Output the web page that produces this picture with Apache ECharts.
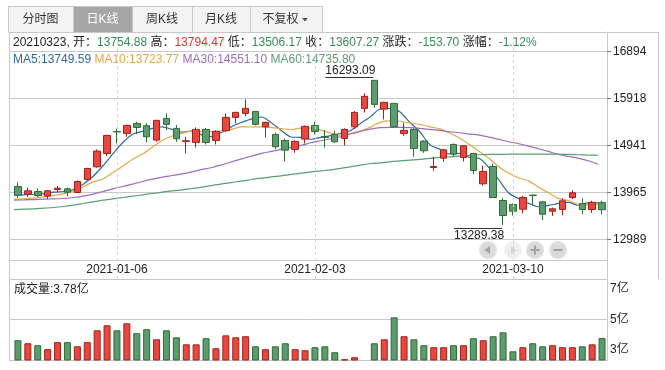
<!DOCTYPE html>
<html><head><meta charset="utf-8">
<script src="https://cdn.jsdelivr.net/npm/echarts@6/dist/echarts.min.js"></script>
<style>html,body{margin:0;padding:0;background:#fff}#c{width:665px;height:370px}</style>
</head><body><div id="c"></div>
<script>
const dates = ['2020-12-22','2020-12-23','2020-12-24','2020-12-25','2020-12-28','2020-12-29','2020-12-30','2020-12-31','2021-01-04','2021-01-05','2021-01-06','2021-01-07','2021-01-08','2021-01-11','2021-01-12','2021-01-13','2021-01-14','2021-01-15','2021-01-18','2021-01-19','2021-01-20','2021-01-21','2021-01-22','2021-01-25','2021-01-26','2021-01-27','2021-01-28','2021-01-29','2021-02-01','2021-02-02','2021-02-03','2021-02-04','2021-02-05','2021-02-08','2021-02-09','2021-02-10','2021-02-18','2021-02-19','2021-02-22','2021-02-23','2021-02-24','2021-02-25','2021-02-26','2021-03-01','2021-03-02','2021-03-03','2021-03-04','2021-03-05','2021-03-08','2021-03-09','2021-03-10','2021-03-11','2021-03-12','2021-03-15','2021-03-16','2021-03-17','2021-03-18','2021-03-19','2021-03-22','2021-03-23'];
const opens = [14089.5,13930,13985.6,13889,14027,14041,13965,14235,14498,14775,
  15230,15191,15398.5,15350,15052,15502,15295,15025,15004,15274,
  15045,15246,15523,15606,15648,15329,15170,15045,14858,15073,
  15357,15121,15170,15087,15329,15710,16292,15696,15814,15191,
  15274,15031,14484,14678,14962,14692,14775,14145,14505,13799,
  13716,13619,13910,13771,13577,13612,13861,13736,13612,13754.88];
const closes = [13909.5,13999.5,13902.5,13999.5,14055,13972,14193,14463.5,14824,15149,
  15222,15357,15315,15121,15461,15378,15080,15038,15274,15004,
  15232,15523,15627,15710,15378,15419,14914,14844,15025,15336,
  15232,15108,15018,15274,15627,15960,15793,15835,15329,15253,
  14879,14831,14505,14851,14761,14935,14422,14401,13861,13487,
  13577,13861,13903,13515,13626,13792,13958,13612,13760.97,13607.27];
const lows = [13854,13875,13868,13826,13972,13889,13958,14207,14477,14720,
  14983,15121,15177,15004,15018,15260,15018,14775,14900,14962,
  14962,15225,15398,15551,15357,15108,14865,14609,14789,14983,
  15170,14900,14997,14941,15281,15627,15724,15482,15310,15142,
  14706,14789,14408,14602,14713,14609,14346,14110,13854,13289.38,
  13487,13529,13695,13390,13480,13494,13827,13515,13542,13506.17];
const highs = [14172.6,14069,14048,14013,14096.5,14069,14214,14477,14858,15163,
  15288,15371,15433,15398,15475,15606,15364,15121,15315,15302,
  15260,15606,15641,15897,15655,15433,15205,15087,15052,15357,
  15433,15260,15246,15295,15655,16022,16293.09,15849,15820,15412,
  15295,15052,14706,14872,14983,14948,14789,14519,14567,13847,
  13736,13896,13923,13785,13653,13840,14013,13840,13792,13794.47];
const volumes = [3.64,3.44,3.31,3.05,3.51,3.51,3.24,3.51,4.29,4.62,
  4.29,4.75,4.10,4.36,3.70,4.29,3.83,3.37,3.37,3.77,
  3.11,3.96,3.83,3.90,3.24,3.05,3.24,3.44,3.05,2.98,
  3.18,3.24,2.85,2.39,2.52,2.35,3.44,3.70,5.14,3.90,
  3.70,3.31,3.18,3.18,3.31,3.31,3.77,3.64,3.90,4.16,
  2.91,3.18,3.44,3.24,3.31,3.18,3.18,3.24,3.37,3.78];
const ma5 = [13909,13916,13923,13937,13973,13986,14024,14137,14301,14520,
  14770,15003,15173,15233,15295,15326,15271,15216,15246,15155,
  15126,15214,15332,15419,15494,15531,15410,15253,15116,15108,
  15070,15109,15144,15194,15252,15397,15534,15698,15709,15634,
  15418,15225,14959,14864,14765,14777,14695,14674,14476,14221,
  13950,13837,13738,13669,13696,13739,13759,13701,13750,13749.59];
const ma10 = [13826,13833,13854,13875,13903,13937,13999,14083,14186,14246,
  14378,14513,14655,14767,14907,15048,15137,15194,15239,15225,
  15226,15242,15274,15332,15324,15328,15312,15292,15267,15301,
  15300,15259,15198,15155,15180,15233,15321,15421,15451,15443,
  15407,15379,15328,15286,15199,15097,14960,14816,14670,14493,
  14363,14266,14206,14072,13958,13844,13798,13719,13709,13723.77];
const ma30 = [13806,13812,13819,13826,13833,13840,13861,13889,13930,13986,
  14041,14090,14138,14193,14242,14284,14318,14353,14394,14443,
  14484,14540,14602,14664,14720,14775,14817,14858,14900,14941,
  14997,15038,15080,15122,15184,15239,15281,15309,15315,15315,
  15309,15295,15274,15253,15225,15205,15177,15156,15115,15066,
  15018,14976,14928,14872,14817,14754,14713,14678,14623,14551.10];
const ma60 = [13611,13618,13625,13639,13653,13674,13702,13736,13771,13806,
  13833,13861,13889,13916,13944,13972,14000,14020,14048,14076,
  14110,14145,14173,14200,14235,14263,14290,14311,14339,14367,
  14394,14415,14436,14464,14498,14533,14561,14581,14602,14623,
  14637,14651,14671,14692,14706,14720,14734,14748,14754,14754,
  14761,14761,14761,14761,14761,14761,14754,14748,14741,14735.80];
const priceTicks = [12989,13965,14941,15918,16894];
const volTicks = [3,5,7];
const dateLabels = ['2021-01-06','2021-02-03','2021-03-10'];
const tabs = ['分时图','日K线','周K线','月K线','不复权'];
const prevClose = 13760.97;

const FF = '"Liberation Sans","Noto Sans CJK SC",sans-serif';
const GL = '#c8c8c8';
const UP = '#e8473d', UPB = '#a1201c', DN = '#5c9b6d', DNB = '#2f6b33';
const MAC = ['#2e6aa3', '#e8a64a', '#9c6cc0', '#5c9e70'];
const TXG = '#3a8a5a', TXR = '#e3352c', TXK = '#222';
const PMIN = 12170, PMAX = 17295, VMIN = 2.34, VMAX = 7.66;

const n = dates.length, L = n - 1;
const f2 = v => v.toFixed(2);
const chg = closes[L] - prevClose;
const pct = chg / prevClose * 100;
const colorOf = v => v >= prevClose ? 'r' : 'g';

let imax = 0, imin = 0;
highs.forEach((h, i) => { if (h > highs[imax]) imax = i; });
lows.forEach((l, i) => { if (l < lows[imin]) imin = i; });

const rs = (c) => ({fill: c, fontSize: 12, fontFamily: FF});
const graphics = [];
const tabX = [8, 73, 132, 192, 250, 322];
tabs.forEach((t, i) => {
  const sel = i === 1;
  graphics.push({type: 'rect', silent: true, shape: {x: tabX[i] + 0.5, y: 6.5, width: tabX[i + 1] - tabX[i], height: 26},
    style: {fill: sel ? '#a6a6a6' : '#f3f3f3', stroke: GL, lineWidth: 1}});
  const cx = i === 4 ? 280.5 : (tabX[i] + tabX[i + 1]) / 2;
  graphics.push({type: 'text', silent: true, x: cx, y: 19.5,
    style: {text: t, fill: sel ? '#fff' : '#333', fontSize: 12, fontFamily: FF, align: 'center', verticalAlign: 'middle'}});
});
graphics.push({type: 'polygon', silent: true, shape: {points: [[302, 18], [308, 18], [305, 21.5]]}, style: {fill: '#555'}});
const hl = (x1, x2, y) => ({type: 'line', silent: true, shape: {x1, y1: y, x2, y2: y}, style: {stroke: GL, lineWidth: 1}});
const vl = (x, y1, y2) => ({type: 'line', silent: true, shape: {x1: x, y1, x2: x, y2}, style: {stroke: GL, lineWidth: 1}});
graphics.push(hl(9, 659, 32.5), hl(9, 608, 260.5), hl(9, 608, 279.5), hl(9, 608, 360.5), vl(9.5, 32, 361), vl(658.5, 32, 279));
graphics.push({type: 'text', silent: true, x: 13, y: 43,
  style: {verticalAlign: 'middle', fontSize: 12, fontFamily: FF, fill: TXK,
    text: `{k|${dates[L].replace(/-/g, '')}, 开：}{${colorOf(opens[L])}|${f2(opens[L])}}{k| 高：}{${colorOf(highs[L])}|${f2(highs[L])}}{k| 低：}{${colorOf(lows[L])}|${f2(lows[L])}}{k| 收：}{${colorOf(closes[L])}|${f2(closes[L])}}{k| 涨跌：}{${chg >= 0 ? 'r' : 'g'}|${f2(chg)}}{k| 涨幅：}{${chg >= 0 ? 'r' : 'g'}|${pct.toFixed(2)}%}`,
    rich: {k: rs(TXK), g: rs(TXG), r: rs(TXR)}}});
graphics.push({type: 'text', silent: true, x: 13, y: 60,
  style: {verticalAlign: 'middle', fontSize: 12, fontFamily: FF,
    text: `{a|MA5:${f2(ma5[L])}} {b|MA10:${f2(ma10[L])}} {c|MA30:${f2(ma30[L])}} {d|MA60:${f2(ma60[L])}}`,
    rich: {a: rs(MAC[0]), b: rs(MAC[1]), c: rs(MAC[2]), d: rs(MAC[3])}}});
graphics.push({type: 'text', silent: true, x: 14, y: 289.5,
  style: {text: '成交量:' + f2(volumes[L]) + '亿', fill: TXK, fontSize: 12, fontFamily: FF, verticalAlign: 'middle'}});
const navs = [{x: 488, k: 'l', dim: false}, {x: 513, k: 'r', dim: true}, {x: 535, k: 'p', dim: false}, {x: 558, k: 'm', dim: false}];
navs.forEach(b => {
  const cy = 250, fill = b.dim ? '#eeeeee' : '#dadada', ic = b.dim ? '#d4d4d4' : '#a2a2a2';
  graphics.push({type: 'circle', silent: true, shape: {cx: b.x, cy, r: 8.5}, style: {fill, stroke: b.dim ? '#f4f4f4' : '#e6e6e6', lineWidth: 1.5}});
  if (b.k === 'l') graphics.push({type: 'polygon', silent: true, shape: {points: [[b.x - 3.5, cy], [b.x + 2, cy - 4], [b.x + 2, cy + 4]]}, style: {fill: ic}});
  if (b.k === 'r') graphics.push({type: 'polygon', silent: true, shape: {points: [[b.x + 3.5, cy], [b.x - 2, cy - 4], [b.x - 2, cy + 4]]}, style: {fill: ic}});
  if (b.k === 'p' || b.k === 'm') graphics.push({type: 'rect', silent: true, shape: {x: b.x - 4.5, y: cy - 1, width: 9, height: 2}, style: {fill: ic}});
  if (b.k === 'p') graphics.push({type: 'rect', silent: true, shape: {x: b.x - 1, y: cy - 4.5, width: 2, height: 9}, style: {fill: ic}});
});

const maLine = (name, data, c) => ({name, type: 'line', xAxisIndex: 1, yAxisIndex: 1, data, smooth: 0.3, symbol: 'none',
  lineStyle: {color: c, width: 1.2}, silent: true, z: 3});

const chart = echarts.init(document.getElementById('c'), null, {renderer: 'canvas', width: 665, height: 370});
chart.setOption({
  animation: false,
  backgroundColor: '#fff',
  textStyle: {fontFamily: FF},
  grid: [
    {left: 13, top: 32, width: 594, height: 247},
    {left: 9, top: 32, width: 594, height: 247},
    {left: 13, top: 279, width: 594, height: 81},
    {left: 9, top: 32, width: 599, height: 247},
    {left: 9, top: 279, width: 599, height: 81}
  ],
  xAxis: [
    {type: 'category', gridIndex: 0, data: dates, boundaryGap: true, axisLine: {show: false}, axisTick: {show: false}, splitLine: {show: false},
      axisLabel: {inside: true, margin: 3, color: TXK, fontSize: 12, fontFamily: FF, interval: (i) => dateLabels.includes(dates[i])}},
    {type: 'category', gridIndex: 1, data: dates, boundaryGap: true, show: false},
    {type: 'category', gridIndex: 2, data: dates, boundaryGap: true, show: false},
    {type: 'value', gridIndex: 3, min: 0, max: 1, show: false},
    {type: 'value', gridIndex: 4, min: 0, max: 1, show: false}
  ],
  yAxis: [
    {type: 'value', gridIndex: 0, position: 'right', min: PMIN, max: PMAX,
      axisLine: {show: true, lineStyle: {color: GL}},
      axisTick: {show: true, length: 4, customValues: priceTicks, lineStyle: {color: '#777'}},
      axisLabel: {customValues: priceTicks, formatter: v => String(v), margin: 6, color: TXK, fontSize: 12, fontFamily: FF},
      splitLine: {show: false}},
    {type: 'value', gridIndex: 1, min: PMIN, max: PMAX, show: false},
    {type: 'value', gridIndex: 2, position: 'right', min: VMIN, max: VMAX,
      axisLine: {show: true, lineStyle: {color: GL}}, axisTick: {show: false},
      axisLabel: {customValues: volTicks, formatter: v => v + '亿', margin: 3, padding: [4, 0, 0, 0], color: TXK, fontSize: 12, fontFamily: FF},
      splitLine: {show: false}},
    {type: 'value', gridIndex: 3, min: PMIN, max: PMAX, axisLine: {show: false}, axisTick: {show: false, customValues: priceTicks},
      axisLabel: {show: false}, splitLine: {show: true, lineStyle: {color: GL, width: 1}}},
    {type: 'value', gridIndex: 4, min: VMIN, max: VMAX, axisLine: {show: false}, axisTick: {show: false, customValues: [5]},
      axisLabel: {show: false}, splitLine: {show: true, lineStyle: {color: GL, width: 1}}}
  ],
  series: [
    {type: 'candlestick', xAxisIndex: 0, yAxisIndex: 0, barWidth: 7, silent: true, z: 4,
      data: dates.map((d, i) => [opens[i], closes[i], lows[i], highs[i]]),
      itemStyle: {color: UP, color0: DN, borderColor: UPB, borderColor0: DNB, borderWidth: 1},
      markLine: {silent: true, animation: false, symbol: ['none', 'none'], label: {show: false},
        lineStyle: {type: [3, 3], color: '#d6d6d6', width: 1}, emphasis: {disabled: true},
        data: dateLabels.map(d => ({xAxis: d}))}},
    maLine('MA5', ma5, MAC[0]),
    maLine('MA10', ma10, MAC[1]),
    maLine('MA30', ma30, MAC[2]),
    maLine('MA60', ma60, MAC[3]),
    {type: 'bar', xAxisIndex: 2, yAxisIndex: 2, barWidth: 7, silent: true,
      data: volumes.map((v, i) => ({value: v, itemStyle: closes[i] >= opens[i]
        ? {color: UP, borderColor: UPB, borderWidth: 1} : {color: DN, borderColor: DNB, borderWidth: 1}}))},
    {type: 'custom', xAxisIndex: 0, yAxisIndex: 0, silent: true, clip: false, z: 6,
      data: [[imax, highs[imax], 1], [imin, lows[imin], -1]],
      encode: {x: 0, y: 1},
      renderItem: (params, api) => {
        const p = api.coord([api.value(0), api.value(1)]);
        const dir = api.value(2);
        const y = Math.round(dir > 0 ? p[1] - 3.5 : p[1] + 3) + 0.5;
        const w = 49;
        return {type: 'group', children: [
          {type: 'line', shape: {x1: p[0] - w, y1: y, x2: p[0] - 1, y2: y}, style: {stroke: '#333', lineWidth: 1}},
          {type: 'text', x: p[0] - w, y: dir > 0 ? y - 1 : y + 1,
            style: {text: f2(api.value(1)), fill: TXK, fontSize: 12, fontFamily: FF, align: 'left', verticalAlign: dir > 0 ? 'bottom' : 'top'}}
        ]};
      }}
  ],
  graphic: graphics
});
</script></body></html>
